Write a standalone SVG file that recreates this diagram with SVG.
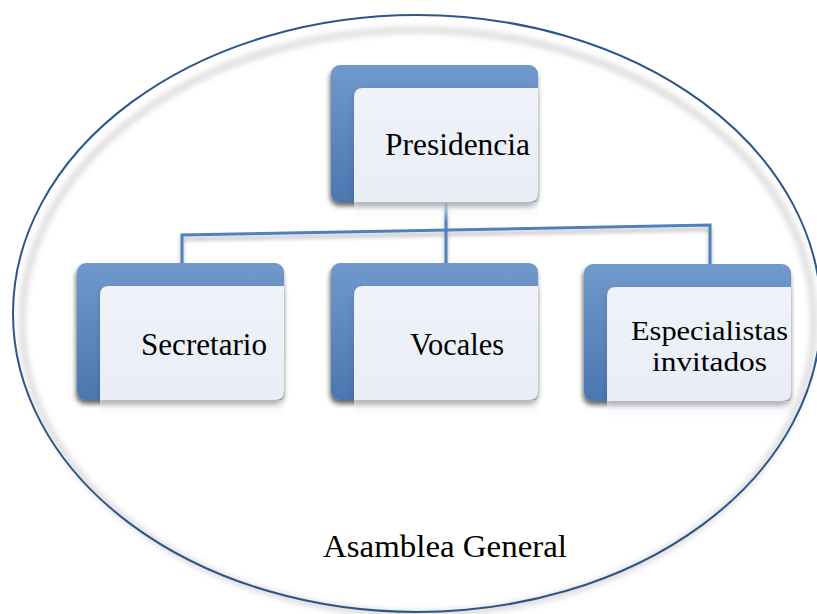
<svg xmlns="http://www.w3.org/2000/svg" width="817" height="614" viewBox="0 0 817 614">
  <defs>
    <linearGradient id="gBack" x1="0" y1="0" x2="0" y2="1">
      <stop offset="0" stop-color="#7099cc"/>
      <stop offset="1" stop-color="#4a77b0"/>
    </linearGradient>
    <linearGradient id="gFront" x1="0" y1="0" x2="0" y2="1">
      <stop offset="0" stop-color="#eff2f9"/>
      <stop offset="1" stop-color="#e9edf5"/>
    </linearGradient>
    <linearGradient id="gRefl" x1="0" y1="0" x2="0" y2="1">
      <stop offset="0" stop-color="#e6e9ef" stop-opacity="0.8"/>
      <stop offset="1" stop-color="#ffffff" stop-opacity="0"/>
    </linearGradient>
    <filter id="fBack" x="-20%" y="-20%" width="140%" height="150%">
      <feGaussianBlur in="SourceAlpha" stdDeviation="2.5"/>
      <feOffset dx="-1" dy="4" result="b"/>
      <feComponentTransfer><feFuncA type="linear" slope="0.6"/></feComponentTransfer>
      <feMerge><feMergeNode/><feMergeNode in="SourceGraphic"/></feMerge>
    </filter>
    <filter id="fFront" x="-20%" y="-20%" width="140%" height="150%">
      <feGaussianBlur in="SourceAlpha" stdDeviation="3"/>
      <feOffset dx="0" dy="3" result="b"/>
      <feComponentTransfer><feFuncA type="linear" slope="0.15"/></feComponentTransfer>
      <feMerge><feMergeNode/><feMergeNode in="SourceGraphic"/></feMerge>
    </filter>
    <filter id="fLine" x="-5%" y="-50%" width="110%" height="200%">
      <feGaussianBlur in="SourceAlpha" stdDeviation="2"/>
      <feOffset dx="0" dy="4" result="b"/>
      <feComponentTransfer><feFuncA type="linear" slope="0.3"/></feComponentTransfer>
      <feMerge><feMergeNode/><feMergeNode in="SourceGraphic"/></feMerge>
    </filter>
    <filter id="fBlur" x="-10%" y="-10%" width="120%" height="120%">
      <feGaussianBlur stdDeviation="3"/>
    </filter>
    <g id="box">
      <rect x="0" y="0" width="207" height="137" rx="9" fill="url(#gBack)" filter="url(#fBack)"/>
      <rect x="23" y="137" width="184" height="20" fill="url(#gRefl)"/>
      <path d="M23,32 Q23,23 32,23 H207 V128 Q207,137 198,137 H23 Z" fill="url(#gFront)" filter="url(#fFront)"/>
    </g>
    <style>
      .t { font-family: "Liberation Serif", "Times New Roman", serif; font-size: 31px; fill: #000000; }
      .t2 { font-size: 28px; }
    </style>
  </defs>

  <rect x="0" y="0" width="817" height="614" fill="#ffffff"/>

  <g id="asamblea">
    <ellipse cx="418" cy="322" rx="396" ry="292" fill="none" stroke="#9a9a9a" stroke-width="5" opacity="0.45" filter="url(#fBlur)"/>
    <ellipse cx="417" cy="313.5" rx="404" ry="298.5" fill="none" stroke="#2c5689" stroke-width="2"/>
    <text class="t" x="323" y="557" textLength="244" lengthAdjust="spacingAndGlyphs">Asamblea General</text>
  </g>

  <g id="connectors" filter="url(#fLine)" stroke="#4f80bc" stroke-width="3" fill="none">
    <line x1="446" y1="203" x2="446" y2="277"/>
    <polyline points="182,266 182,235 710,225 710,274"/>
  </g>

  <g id="presidencia" transform="translate(331,65)">
    <use href="#box"/>
    <text class="t" x="54" y="90" textLength="145" lengthAdjust="spacingAndGlyphs">Presidencia</text>
  </g>

  <g id="secretario" transform="translate(77,263)">
    <use href="#box"/>
    <text class="t" x="64" y="92" textLength="126" lengthAdjust="spacingAndGlyphs">Secretario</text>
  </g>

  <g id="vocales" transform="translate(331,263)">
    <use href="#box"/>
    <text class="t" x="79" y="92" textLength="94" lengthAdjust="spacingAndGlyphs">Vocales</text>
  </g>

  <g id="especialistas" transform="translate(584,264)">
    <use href="#box"/>
    <text class="t t2" x="47" y="76" textLength="157" lengthAdjust="spacingAndGlyphs">Especialistas</text>
    <text class="t t2" x="68" y="107" textLength="115" lengthAdjust="spacingAndGlyphs">invitados</text>
  </g>
</svg>
